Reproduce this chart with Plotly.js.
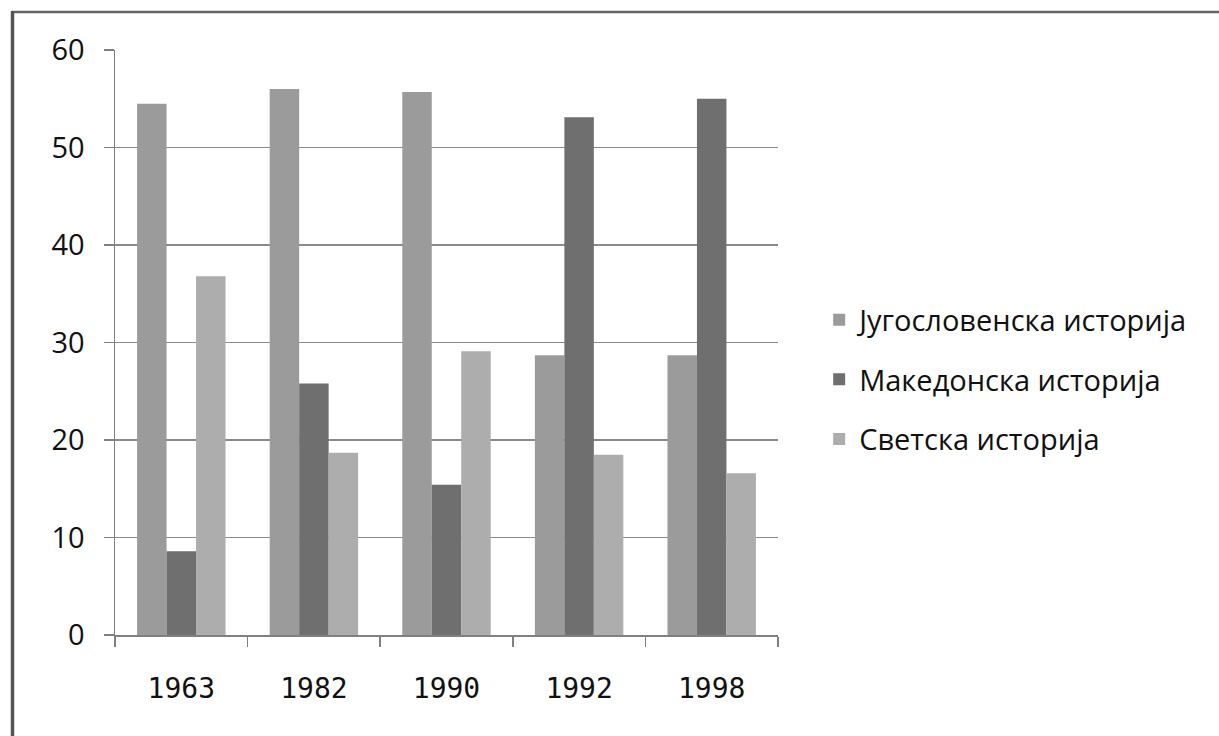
<!DOCTYPE html>
<html>
<head>
<meta charset="utf-8">
<script src="https://cdn.plot.ly/plotly-3.0.1.min.js"></script>
<style>html,body{margin:0;padding:0;background:#fff;}#chart{width:1219px;height:736px;}</style>
</head>
<body>
<div id="chart"></div>
<script>
const years = ['1963', '1982', '1990', '1992', '1998'];
const seriesNames = ['Југословенска историја', 'Македонска историја', 'Светска историја'];
const yugoslav = [54.5, 56.0, 55.7, 28.7, 28.7];
const macedonian = [8.6, 25.8, 15.4, 53.1, 55.0];
const world = [36.8, 18.7, 29.1, 18.5, 16.6];
const yTicks = [0, 10, 20, 30, 40, 50, 60];

const colors = ['#9b9b9b', '#6f6f6f', '#adadad'];
const values = [yugoslav, macedonian, world];

const traces = values.map((v, i) => ({
  type: 'bar',
  x: years,
  y: v,
  name: seriesNames[i],
  legendgroup: 'g' + i,
  marker: {color: colors[i], line: {width: 0}},
  hoverinfo: 'x+y+name'
}));

const L = 115, R = 778, T = 50, B = 635;
const pw = R - L, ph = B - T;
const px = x => (x - L) / pw;
const py = y => (B - y) / ph;

const layout = {
  width: 1219,
  height: 736,
  margin: {l: L, r: 1219 - R, t: T, b: 736 - B, pad: 0},
  paper_bgcolor: '#ffffff',
  plot_bgcolor: '#ffffff',
  barmode: 'group',
  bargap: 0.333,
  bargroupgap: 0,
  showlegend: true,
  legend: {
    xref: 'container', yref: 'container',
    x: 0.672, y: 0.484, xanchor: 'left', yanchor: 'middle',
    font: {family: 'Open Sans, sans-serif', size: 29, color: '#111'},
    traceorder: 'grouped',
    tracegroupgap: 19,
    itemwidth: 30,
    bgcolor: 'rgba(0,0,0,0)'
  },
  xaxis: {
    type: 'category',
    showline: true, linecolor: '#808080', linewidth: 1.5,
    ticks: 'outside', tickson: 'boundaries', ticklen: 10, tickcolor: '#808080', tickwidth: 1.5,
    tickfont: {family: 'DejaVu Sans Mono, monospace', size: 28, color: '#111'},
    ticklabelstandoff: 28,
    showgrid: false,
    fixedrange: true
  },
  yaxis: {
    range: [0, 60],
    tickvals: yTicks,
    ticktext: yTicks.map(String),
    showline: true, linecolor: '#808080', linewidth: 1.5,
    ticks: 'outside', ticklen: 10, tickcolor: '#808080', tickwidth: 1.5,
    showgrid: true, gridcolor: '#8a8a8a', gridwidth: 1.5,
    zeroline: false,
    tickfont: {family: 'Open Sans, sans-serif', size: 29, color: '#111'},
    ticklabelstandoff: 13,
    fixedrange: true
  },
  shapes: [
    {type: 'line', xref: 'paper', yref: 'paper', x0: px(12), x1: px(1219), y0: py(12), y1: py(12),
     line: {color: '#666', width: 2.5}},
    {type: 'line', xref: 'paper', yref: 'paper', x0: px(12.5), x1: px(12.5), y0: py(11), y1: py(736),
     line: {color: '#555', width: 3.5}}
  ]
};

Plotly.newPlot('chart', traces, layout, {displayModeBar: false, staticPlot: true});
</script>
</body>
</html>
